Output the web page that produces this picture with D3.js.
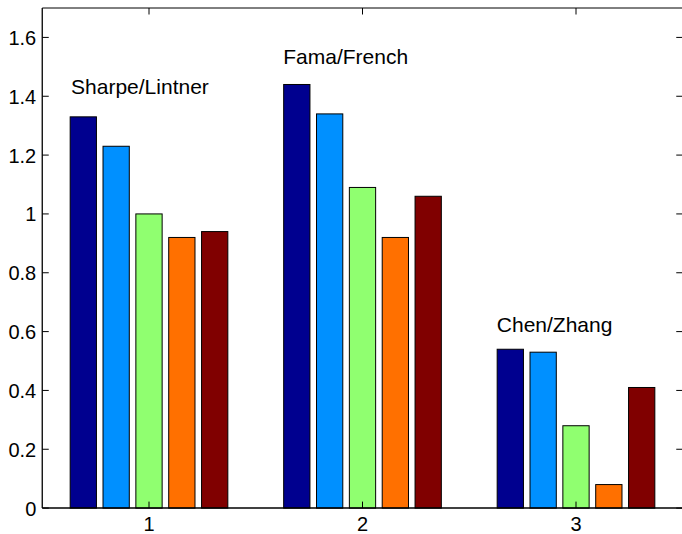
<!DOCTYPE html>
<html>
<head>
<meta charset="utf-8">
<script src="https://cdn.jsdelivr.net/npm/d3@7"></script>
<style>
html,body{margin:0;padding:0;background:#fff;overflow:hidden;}
svg{display:block;font-family:"Liberation Sans",Arial,Helvetica,sans-serif;}
</style>
</head>
<body>
<svg id="chart" width="682" height="534"></svg>
<script>
const categories = [1, 2, 3];
const seriesNames = ["s1", "s2", "s3", "s4", "s5"];
const seriesColors = ["#00008f", "#0090ff", "#90ff70", "#ff7000", "#800000"];
const values = [
  [1.33, 1.23, 1.00, 0.92, 0.94],
  [1.44, 1.34, 1.09, 0.92, 1.06],
  [0.54, 0.53, 0.28, 0.08, 0.41]
];
const groupLabels = ["Sharpe/Lintner", "Fama/French", "Chen/Zhang"];
const groupLabelPos = [[0.635, 1.407], [1.629, 1.509], [2.629, 0.600]];
const yTicks = [0, 0.2, 0.4, 0.6, 0.8, 1, 1.2, 1.4, 1.6];
const yTickLabels = ["0", "0.2", "0.4", "0.6", "0.8", "1", "1.2", "1.4", "1.6"];

(function () {
const svg = d3.select("#chart");
const pL = 42.25, pR = 682.75, pT = 8, pB = 508.1;

const x = d3.scaleLinear().domain([0.5, 3.5]).range([pL, pR]);
const y = d3.scaleLinear().domain([0, 1.7]).range([pB, pT]);

const nS = seriesNames.length;
const groupWidth = Math.min(0.8, nS / (nS + 1.5));
const step = groupWidth / nS;
const barW = step * 0.8;

// bars
const g = svg.append("g");
values.forEach((row, ci) => {
  row.forEach((v, si) => {
    const cx = categories[ci] - groupWidth / 2 + step * (si + 0.5);
    g.append("rect")
      .attr("x", x(cx - barW / 2))
      .attr("y", y(v))
      .attr("width", x(cx + barW / 2) - x(cx - barW / 2))
      .attr("height", y(0) - y(v))
      .attr("fill", seriesColors[si])
      .attr("stroke", "#000")
      .attr("stroke-width", 1);
  });
});

// axes box
const ax = svg.append("g").attr("stroke", "#000").attr("stroke-width", 1).attr("fill", "none");
ax.append("line").attr("x1", pL).attr("x2", pR).attr("y1", pT).attr("y2", pT);
ax.append("line").attr("x1", pL).attr("x2", pR).attr("y1", pB).attr("y2", pB).attr("stroke-width", 1.5);
ax.append("line").attr("x1", pL).attr("x2", pL).attr("y1", pT).attr("y2", pB).attr("stroke-width", 1.3);
ax.append("line").attr("x1", pR).attr("x2", pR).attr("y1", pT).attr("y2", pB);

// y ticks
const tl = 6.5;
yTicks.forEach((t, i) => {
  ax.append("line").attr("x1", pL).attr("x2", pL + tl).attr("y1", y(t)).attr("y2", y(t));
  ax.append("line").attr("x1", pR - tl).attr("x2", pR).attr("y1", y(t)).attr("y2", y(t));
  svg.append("text").attr("x", pL - 6).attr("y", y(t) + 7.5)
    .attr("text-anchor", "end").attr("font-size", 20).attr("fill", "#000")
    .text(yTickLabels[i]);
});
// x ticks
categories.forEach(c => {
  ax.append("line").attr("x1", x(c)).attr("x2", x(c)).attr("y1", pB).attr("y2", pB - tl);
  ax.append("line").attr("x1", x(c)).attr("x2", x(c)).attr("y1", pT).attr("y2", pT + tl);
  svg.append("text").attr("x", x(c)).attr("y", pB + 23)
    .attr("text-anchor", "middle").attr("font-size", 20).attr("fill", "#000")
    .text(String(c));
});

// group labels
groupLabels.forEach((lab, i) => {
  svg.append("text").attr("x", x(groupLabelPos[i][0])).attr("y", y(groupLabelPos[i][1]))
    .attr("font-size", 21).attr("fill", "#000").text(lab);
});
})();
</script>
</body>
</html>
